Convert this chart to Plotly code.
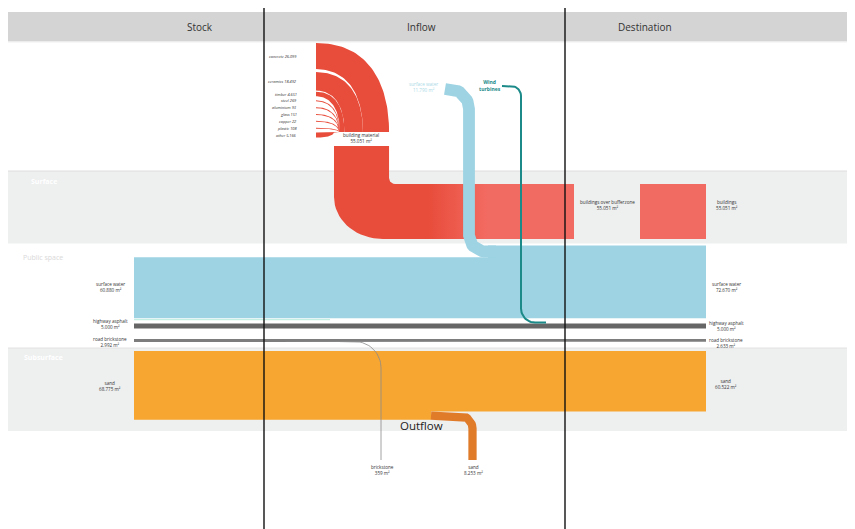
import numpy as np
import plotly.graph_objects as go

# ---------------- data ----------------
SCALE = 1 / 1000.0  # drawing units per m²

columns = ["Stock", "Inflow", "Destination"]
zones = ["Surface", "Public space", "Subsurface"]

layer_names = ["surface water", "highway asphalt", "road brickstone", "sand"]
stock_values = [60880, 5000, 2992, 68775]
destination_values = [72670, 5000, 2633, 60522]

inflow_surface_water = 11790
inflow_building_material = 55051

material_names = ["concrete", "ceramics", "timber", "steel", "aluminium",
                  "glass", "copper", "plastic", "other"]
material_values = [26099, 18492, 4651, 269, 93, 151, 22, 108, 5166]

building_names = ["buildings over bufferzone", "buildings"]
building_values = [55051, 55051]

outflow_names = ["brickstone", "sand"]
outflow_values = [359, 8253]

# ---------------- styles ----------------
C_WATER = "#9dd3e3"
C_ASPH = "#666666"
C_BRICK = "#7d7d7d"
C_SAND = "#f7a631"
C_SAND_OUT = "#e07b2a"
C_RED = "#e84c3a"
C_SALMON = "#f26b62"
C_TEAL = "#1b8a88"
FONT = "Open Sans"
PAGE_OFFSET = 8  # default body margin of the html page
W, H = 855, 529


def fmt(v):
    return f"{v:,}".replace(",", ".")


def fmtc(v):
    return f"{v:,}"


def round_path(pts, radii, closed=False, n=18):
    pts = [np.array(p, float) for p in pts]
    N = len(pts)
    out = []
    for i in range(N):
        P = pts[i]
        if not closed and (i == 0 or i == N - 1):
            out.append(P)
            continue
        r = radii[i]
        if not isinstance(r, (tuple, list)):
            r = (r, r)
        if r[0] <= 0:
            out.append(P)
            continue
        A = pts[i - 1]
        B = pts[(i + 1) % N]
        u = (P - A) / np.linalg.norm(P - A)
        v = (B - P) / np.linalg.norm(B - P)
        p0 = P - u * r[0]
        p2 = P + v * r[1]
        t = np.linspace(0, 1, n)[:, None]
        k = 0.5523
        c1 = p0 + u * r[0] * k
        c2 = p2 - v * r[1] * k
        q = (1 - t) ** 3 * p0 + 3 * (1 - t) ** 2 * t * c1 + 3 * (1 - t) * t ** 2 * c2 + t ** 3 * p2
        out.extend(list(q))
    if closed:
        out.append(out[0])
    arr = np.array(out)
    return arr[:, 0], arr[:, 1]


def cubic(p0, p1, p2, p3, n=50):
    t = np.linspace(0, 1, n)[:, None]
    return (1 - t) ** 3 * p0 + 3 * (1 - t) ** 2 * t * p1 + 3 * (1 - t) * t ** 2 * p2 + t ** 3 * p3


def fan_edge(x0, y0, x1, y1):
    p0 = np.array([x0, y0]); p3 = np.array([x1, y1])
    p1 = np.array([x0 + 0.72 * (x1 - x0), y0])
    p2 = np.array([x1, y0 + 0.45 * (y1 - y0)])
    return cubic(p0, p1, p2, p3)


fig = go.Figure()


def poly(xs, ys, color, **kw):
    fig.add_trace(go.Scatter(x=list(xs), y=list(ys), mode="lines", fill="toself",
                             fillcolor=color, line=dict(width=0, color=color),
                             hoverinfo="skip", **kw))


def pipe(pts, radii, width, color):
    xs, ys = round_path(pts, radii)
    fig.add_trace(go.Scatter(x=xs, y=ys, mode="lines",
                             line=dict(width=width, color=color),
                             hoverinfo="skip"))


# ---------------- layout constants ----------------
X0, X1 = 134, 706
vals = dict(zip(layer_names, zip(stock_values, destination_values)))

# surface water band (stock + inflow join)
sw_bottom = 318.2
sw_top_stock = sw_bottom - vals["surface water"][0] * SCALE
sw_top_dest = sw_bottom - vals["surface water"][1] * SCALE
XJ_SW = 488
poly([X0, X0, XJ_SW, XJ_SW, X1, X1, X0],
     [sw_bottom, sw_top_stock, sw_top_stock, sw_top_dest, sw_top_dest, sw_bottom, sw_bottom], C_WATER)

# thin mint edge line
fig.add_trace(go.Scatter(x=[X0, 330], y=[sw_bottom + 1.4, sw_bottom + 1.4], mode="lines",
                         line=dict(width=1.3, color="#c4efe2"), hoverinfo="skip"))

# highway asphalt
asph_top = 323.5
a_s, a_d = vals["highway asphalt"]
poly([X0, X1, X1, X0, X0],
     [asph_top, asph_top, asph_top + a_d * SCALE, asph_top + a_s * SCALE, asph_top], C_ASPH)

# road brickstone
br_top = 339.0
b_s, b_d = vals["road brickstone"]
XJ_BR = 345
poly([X0, X1, X1, XJ_BR, XJ_BR, X0, X0],
     [br_top, br_top, br_top + b_d * SCALE, br_top + b_d * SCALE, br_top + b_s * SCALE,
      br_top + b_s * SCALE, br_top], C_BRICK)

# sand
sand_top = 351.0
s_s, s_d = vals["sand"]
XJ_SAND = 431
poly([X0, X1, X1, XJ_SAND, XJ_SAND, X0, X0],
     [sand_top, sand_top, sand_top + s_d * SCALE, sand_top + s_d * SCALE,
      sand_top + s_s * SCALE, sand_top + s_s * SCALE, sand_top], C_SAND)

# outflows
out_bottom = 460
w_sand_out = outflow_values[1] * SCALE
yc = sand_top + s_d * SCALE + w_sand_out / 2
pipe([(XJ_SAND, yc), (472.5, yc), (472.5, out_bottom)], [0, 13, 0], w_sand_out, C_SAND_OUT)

w_brick_out = max(outflow_values[0] * SCALE, 0.8)
ybc = br_top + b_s * SCALE - 0.4
pipe([(340, ybc), (381, ybc), (381, out_bottom)], [0, 26, 0], w_brick_out, "#8a8a8a")

# building material trunk (L-shape with gradient)
bm_w = inflow_building_material * SCALE
tx0 = 334.0
ttop = 146.0
band_top = 184.0
band_right = 574.0
pts = [(tx0, ttop), (tx0 + bm_w, ttop), (tx0 + bm_w, band_top), (band_right, band_top),
       (band_right, band_top + bm_w), (tx0, band_top + bm_w)]
rad = [0, 0, 6, 0, 0, (49, 42)]
xs, ys = round_path(pts, rad, closed=True)
fig.add_trace(go.Scatter(x=xs, y=ys, mode="lines", fill="toself", line=dict(width=0),
                         fillgradient=dict(type="horizontal",
                                           colorscale=[[0, C_RED], [0.39, C_RED],
                                                       [0.64, C_SALMON], [1, C_SALMON]],
                                           start=tx0, stop=band_right),
                         hoverinfo="skip"))

# destination buildings box
bx0 = 640
bw = 66
poly([bx0, bx0 + bw, bx0 + bw, bx0, bx0],
     [band_top, band_top, band_top + building_values[1] * SCALE, band_top + building_values[1] * SCALE,
      band_top], C_SALMON)

# material fan
XL = 316.0
YB = 132.0
fan_right = tx0 + bm_w
thick = [v * SCALE for v in material_values]
label_y = [43 + thick[0] / 2, 43 + thick[0] + 3 + thick[1] / 2] + list(np.linspace(94, 135, 7))
cur_right = fan_right
for i, t in enumerate(thick):
    tl = max(t, 1.0)
    a = label_y[i] - tl / 2
    b = label_y[i] + tl / 2
    d = cur_right
    c = cur_right - max(t, 0.6)
    cur_right -= t
    outer = fan_edge(XL, a, d, YB)
    inner = fan_edge(XL, b, c, YB)[::-1]
    P = np.vstack([outer, inner, outer[:1]])
    poly(P[:, 0], P[:, 1], C_RED)

# surface water inflow pipe
w_sw = inflow_surface_water * SCALE
pipe([(445, 89), (469, 89), (469, sw_top_stock - w_sw / 2), (XJ_SW + 8, sw_top_stock - w_sw / 2)],
     [0, 20, 16, 0], w_sw, C_WATER)

# wind turbines
pipe([(502, 86), (521, 86), (521, asph_top - 1.0), (546, asph_top - 1.0)],
     [0, 10, 14, 0], 2, C_TEAL)

# ---------------- background shapes ----------------
shapes = [
    dict(type="rect", x0=8, x1=870, y0=12, y1=41, fillcolor="#d4d4d4", line_width=0, layer="below"),
    dict(type="line", x0=8, x1=870, y0=41.8, y1=41.8, line=dict(color="#e4e4e4", width=1), layer="below"),
    dict(type="rect", x0=8, x1=870, y0=171, y1=243.5, fillcolor="#eeefef", line_width=0, layer="below"),
    dict(type="line", x0=8, x1=870, y0=171, y1=171, line=dict(color="#dedede", width=1), layer="below"),
    dict(type="rect", x0=8, x1=870, y0=348, y1=431, fillcolor="#eeefef", line_width=0, layer="below"),
    dict(type="line", x0=8, x1=870, y0=348, y1=348, line=dict(color="#e2e2e2", width=1), layer="below"),
    dict(type="line", x0=264, x1=264, y0=5, y1=540, line=dict(color="#111111", width=1.4), layer="above"),
    dict(type="line", x0=565, x1=565, y0=5, y1=540, line=dict(color="#111111", width=1.4), layer="above"),
]

ann = []


def label(x, y, text, size=4.6, color="#333333", xanchor="center", **kw):
    ann.append(dict(x=x, y=y, text=text, showarrow=False, xanchor=xanchor, yanchor="middle",
                    font=dict(size=size, color=color, family=FONT), **kw))


# column headers
for name, x in zip(columns, [200, 421, 645]):
    label(x, 27, name, size=10, color="#333333")

# zones
label(29, 181, "<b>" + zones[0] + "</b>", size=7, color="#ffffff", xanchor="left")
label(21, 257, zones[1], size=7, color="#d9d9d9", xanchor="left")
label(22, 357, "<b>" + zones[2] + "</b>", size=7, color="#ffffff", xanchor="left")
label(421, 425, "Outflow", size=11.5, color="#222222")

# stock labels
stock_lab_y = [286.5, 323.5, 342, 385.5]
dest_lab_y = [286.5, 325.5, 342.5, 383.5]
for n, v, y in zip(layer_names, stock_values, stock_lab_y):
    label(110, y, f"{n}<br>{fmt(v)} m²")
for n, v, y in zip(layer_names, destination_values, dest_lab_y):
    label(726, y, f"{n}<br>{fmt(v)} m²")

# buildings
label(607, 205, f"{building_names[0]}<br>{fmt(building_values[0])} m²")
label(727, 205, f"{building_names[1]}<br>{fmt(building_values[1])} m²")

# inflow labels
label(423, 86.5, f"surface water<br>{fmt(inflow_surface_water)} m²", color="#a9d9e6")
label(490, 85.5, "<b>Wind<br>turbines</b>", size=5, color=C_TEAL)
label(361, 138, f"building material<br>{fmt(inflow_building_material)} m²")
for n, v, y in zip(material_names, material_values, label_y):
    label(299, y, f"<i>{n} {fmtc(v)}</i>", size=3.9, xanchor="right")

# outflow labels
label(382, 470, f"{outflow_names[0]}<br>{fmt(outflow_values[0])} m²")
label(473, 470, f"{outflow_names[1]}<br>{fmt(outflow_values[1])} m²")

FIG_W = W - PAGE_OFFSET
FIG_H = H - PAGE_OFFSET
fig.update_layout(
    width=FIG_W, height=FIG_H,
    margin=dict(l=0, r=0, t=0, b=0),
    paper_bgcolor="#ffffff", plot_bgcolor="#ffffff",
    showlegend=False,
    xaxis=dict(range=[PAGE_OFFSET, FIG_W + PAGE_OFFSET], visible=False, fixedrange=True),
    yaxis=dict(range=[FIG_H + PAGE_OFFSET, PAGE_OFFSET], visible=False, fixedrange=True),
    shapes=shapes,
    annotations=ann,
)

fig.write_html("out.html")
